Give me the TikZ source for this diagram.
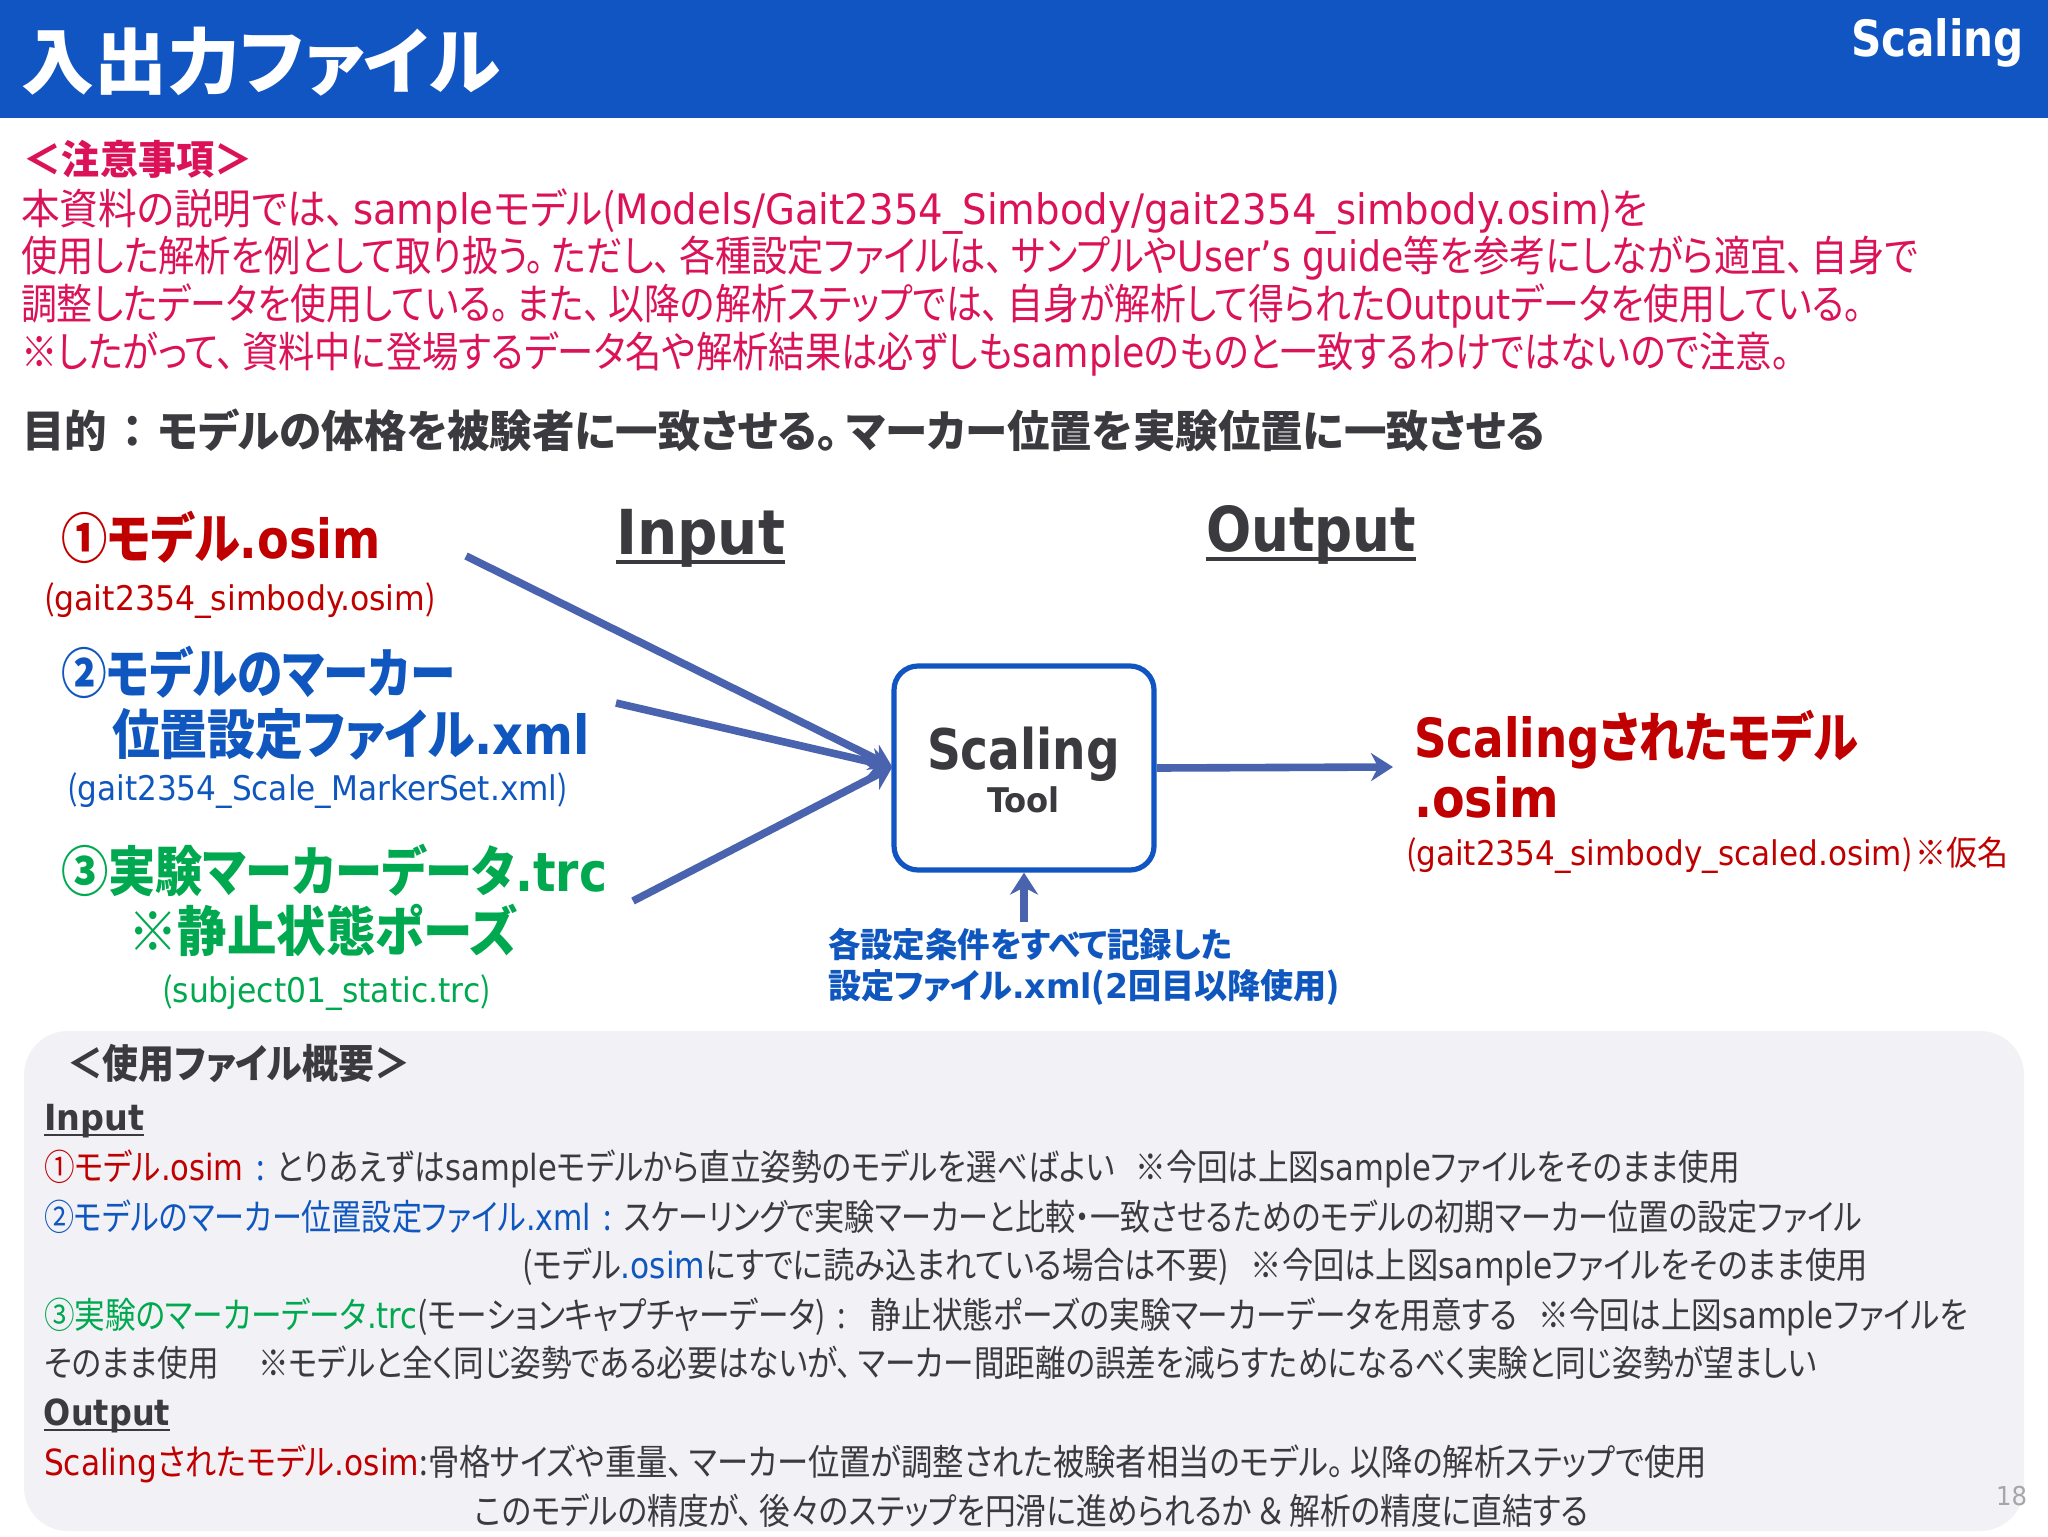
\documentclass[tikz,border=0pt]{standalone}
\usepackage{graphicx}
\usepackage{fontspec}
\setmainfont{Noto Sans CJK JP}[RawFeature=+palt]
\newfontfamily\latfont{DejaVu Sans}
\usetikzlibrary{arrows.meta, calc}
\definecolor{headblue}{HTML}{1155C3}
\definecolor{notered}{HTML}{DC1258}
\definecolor{darkred}{HTML}{C00000}
\definecolor{fileblue}{HTML}{0F57BF}
\definecolor{filegreen}{HTML}{00A94F}
\definecolor{textgray}{HTML}{3B3B3F}
\definecolor{arrowblue}{HTML}{4A63AE}
\definecolor{panelgray}{HTML}{F2F1F5}
\newcommand{\en}[1]{{\latfont #1}}
\newcommand{\fitw}[2]{\resizebox{\dimexpr#1pt/2\relax}{\height}{#2}}
\newcommand{\fsize}[1]{\fontsize{#1}{#1}\selectfont}
\newcommand{\ten}{、\hspace{.2em}}
\newcommand{\maru}{。\hspace{.2em}}
\newcommand{\underln}[3]{\vtop{\setbox0\hbox{#3}\dp0=0pt \box0 \kern#1\hrule height #2}}
\begin{document}
\begin{tikzpicture}[x=0.5pt,y=-0.5pt]
% Styles
\tikzstyle{txt} = [anchor=base west, inner sep=0pt, outer sep=0pt]
\tikzstyle{title} = [txt, text=white, font=\fsize{36}\bfseries]
\tikzstyle{note} = [txt, text=notered, font=\fsize{21}]
\tikzstyle{heading} = [txt, text=textgray, font=\fsize{22}\bfseries]
\tikzstyle{bigfile} = [txt, font=\fsize{27}\bfseries]
\tikzstyle{smallfile} = [txt, font=\fsize{17}]
\tikzstyle{body} = [txt, text=textgray, font=\fsize{18}]
\tikzstyle{toolbox} = [rectangle, rounded corners=12pt, draw=headblue, line width=2.6pt, fill=white, minimum width=130pt, minimum height=102pt]
\tikzstyle{arrow} = [line width=3.8pt,-{Stealth[length=11pt,width=14pt]},draw=arrowblue]

\useasboundingbox (0,0) rectangle (2048,1536);
\fill[white] (0,0) rectangle (2048,1536);
\fill[headblue] (0,0) rectangle (2048,118);
\fill[panelgray, rounded corners=22pt] (24,1031) rectangle (2024,1531);

% Header
\node (head) [title] at (22,89) {\fitw{478}{入出力ファイル}};
\node (part) [title, font=\fsize{25}\bfseries] at (1851,57) {\fitw{173}{\en{Scaling}}};

% Notes
\node (notehead) [note, font=\fsize{20}\bfseries] at (24,174) {\fitw{228}{＜注意事項＞}};
\node (note1) [note] at (21,224) {\fitw{1627}{本資料の説明では\ten\en{sample}モデル(\en{Models/Gait2354\_Simbody/gait2354\_simbody.osim})を}};
\node (note2) [note] at (21,271) {\fitw{1897}{使用した解析を例として取り扱う\maru ただし\ten 各種設定ファイルは\ten サンプルや\en{User’s guide}等を参考にしながら適宜\ten 自身で}};
\node (note3) [note] at (21,319) {\fitw{1841}{調整したデータを使用している\maru また\ten 以降の解析ステップでは\ten 自身が解析して得られた\en{Output}データを使用している。}};
\node (note4) [note] at (21,367) {\fitw{1769}{※したがって\ten 資料中に登場するデータ名や解析結果は必ずしも\en{sample}のものと一致するわけではないので注意。}};
\node (goal) [heading] at (22,447) {\fitw{1523}{目的\hspace{.35em}：\hspace{.35em}モデルの体格を被験者に一致させる\maru マーカー位置を実験位置に一致させる}};

% Column labels
\node (inlabel) [heading, font=\fsize{31}\bfseries] at (616,554) {\fitw{169}{\underln{3pt}{2pt}{\en{Input}}}};
\node (outlabel) [heading, font=\fsize{31}\bfseries] at (1206,551) {\fitw{210}{\underln{3pt}{2pt}{\en{Output}}}};

% Inputs
\node (model) [bigfile, text=darkred] at (61,558) {\fitw{320}{①モデル\en{.osim}}};
\node (modelfile) [smallfile, text=darkred] at (44,610) {\fitw{392}{(\en{gait2354\_simbody.osim})}};
\node (marker1) [bigfile, text=fileblue] at (61,693) {\fitw{394}{②モデルのマーカー}};
\node (marker2) [bigfile, text=fileblue] at (112,754) {\fitw{478}{位置設定ファイル\en{.xml}}};
\node (markerfile) [smallfile, text=fileblue] at (67,800) {\fitw{501}{(\en{gait2354\_Scale\_MarkerSet.xml})}};
\node (trc1) [bigfile, text=filegreen] at (61,891) {\fitw{546}{③実験マーカーデータ\en{.trc}}};
\node (trc2) [bigfile, text=filegreen] at (128,951) {\fitw{389}{※静止状態ポーズ}};
\node (trcfile) [smallfile, text=filegreen] at (162,1002) {\fitw{329}{(\en{subject01\_static.trc})}};

% Tool
\node (tool) [toolbox] at (1024,768) {};
\node (toolname) [heading, font=\fsize{28}\bfseries] at (927,769) {\fitw{193}{\en{Scaling}}};
\node (toolsub) [heading, font=\fsize{17}\bfseries] at (987,812) {\fitw{73}{\en{Tool}}};
\node (setting1) [txt, text=fileblue, font=\fsize{17}\bfseries] at (828,957) {\fitw{404}{各設定条件をすべて記録した}};
\node (setting2) [txt, text=fileblue, font=\fsize{17}\bfseries] at (828,998) {\fitw{512}{設定ファイル\en{.xml}(\en{2}回目以降使用)}};

% Output
\node (scaled1) [bigfile, text=darkred] at (1414,757) {\fitw{444}{\en{Scaling}されたモデル}};
\node (scaled2) [bigfile, text=darkred] at (1414,817) {\fitw{145}{\en{.osim}}};
\node (scaledfile) [smallfile, text=darkred] at (1406,865) {\fitw{603}{(\en{gait2354\_simbody\_scaled.osim})\hspace{.1em}※仮名}};

% Arrows
\coordinate (a1) at (466,556);
\coordinate (a2) at (616,703);
\coordinate (a3) at (633,901);
\coordinate (a4) at (1393,767);
\coordinate (a5) at (1024,922);
\coordinate (toolin) at ($(tool.west)+(1,-1)$);
\draw [arrow] (a1) -- (toolin);
\draw [arrow] (a2) -- (toolin);
\draw [arrow] (a3) -- (toolin);
\draw [arrow] (tool.east) -- (a4);
\draw [arrow] (a5) -- (tool.south);

% Summary panel
\node (sumhead) [heading, font=\fsize{20}\bfseries] at (67,1078) {\fitw{343}{＜使用ファイル概要＞}};
\node (suminput) [body, font=\fsize{18}\bfseries] at (44,1130) {\fitw{100}{\underln{2pt}{1.2pt}{\en{Input}}}};
\node (line1) [body] at (44,1180) {\fitw{1696}{\textcolor{darkred}{①モデル\en{.osim}}\textcolor{fileblue}{\hspace{.4em}:\hspace{.4em}}とりあえずは\en{sample}モデルから直立姿勢のモデルを選べばよい\hspace{.7em}※今回は上図\en{sample}ファイルをそのまま使用}};
\node (line2) [body] at (44,1230) {\fitw{1818}{\textcolor{fileblue}{②モデルのマーカー位置設定ファイル\en{.xml}\hspace{.4em}:\hspace{.4em}}スケーリングで実験マーカーと比較・一致させるためのモデルの初期マーカー位置の設定ファイル}};
\node (line3) [body] at (522,1278) {\fitw{1346}{(モデル\textcolor{fileblue}{\en{.osim}}にすでに読み込まれている場合は不要)\hspace{.7em}※今回は上図\en{sample}ファイルをそのまま使用}};
\node (line4) [body] at (44,1328) {\fitw{1924}{\textcolor{filegreen}{③実験のマーカーデータ\en{.trc}}(モーションキャプチャーデータ)\hspace{.4em}:\hspace{.8em}静止状態ポーズの実験マーカーデータを用意する\hspace{.7em}※今回は上図\en{sample}ファイルを}};
\node (line5) [body] at (44,1376) {\fitw{1773}{そのまま使用\hspace{1.3em}※モデルと全く同じ姿勢である必要はないが\ten マーカー間距離の誤差を減らすためになるべく実験と同じ姿勢が望ましい}};
\node (sumoutput) [body, font=\fsize{18}\bfseries] at (44,1425) {\fitw{126}{\underln{2pt}{1.2pt}{\en{Output}}}};
\node (line6) [body] at (44,1475) {\fitw{1663}{\textcolor{darkred}{\en{Scaling}されたモデル\en{.osim}}:骨格サイズや重量\ten マーカー位置が調整された被験者相当のモデル\maru 以降の解析ステップで使用}};
\node (line7) [body] at (475,1524) {\fitw{1113}{このモデルの精度が\ten 後々のステップを円滑に進められるか\hspace{.2em}＆\hspace{.2em}解析の精度に直結する}};
\node (pagenum) [txt, text=black!35, font=\fsize{13}] at (1996,1505) {\fitw{31}{\en{18}}};
\end{tikzpicture}
\end{document}
